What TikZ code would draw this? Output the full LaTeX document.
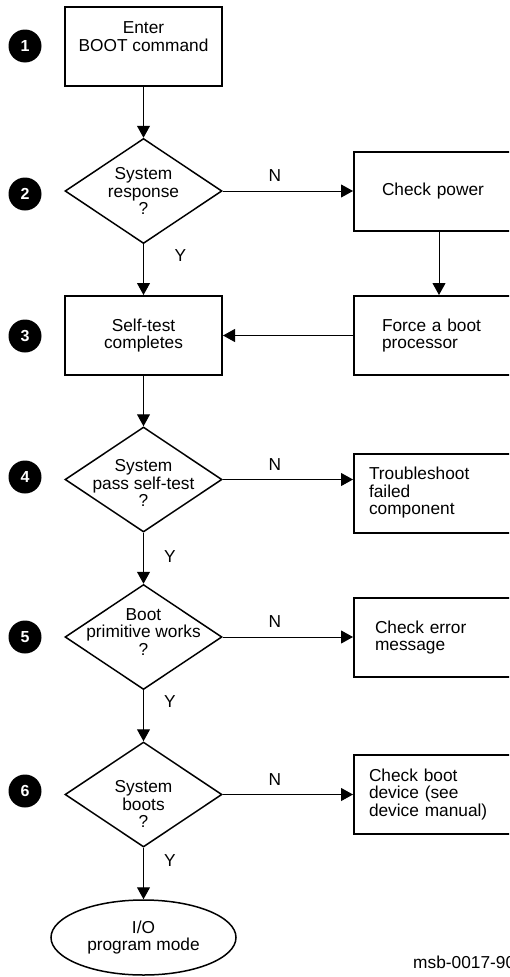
\documentclass[tikz,border=0pt]{standalone}
\usepackage{fontspec}
\setmainfont{Liberation Sans}
\usepackage{tikz}
\usetikzlibrary{
	arrows.meta,
	shapes.geometric
}

\begin{document}
\begin{tikzpicture}[x=1pt, y=-1pt,
		every node/.style={font=\fontsize{17.3pt}{17.5pt}\selectfont},
		box/.style={draw, line width=2pt, minimum width=157pt, minimum height=79pt, align=center},
		act/.style={draw, line width=2pt, anchor=west, align=left, minimum height=79pt},
		decision/.style={draw, diamond, line width=1.5pt, minimum width=157pt, minimum height=105pt, inner sep=0pt},
		qtext/.style={align=center, inner sep=0pt},
		badge/.style={circle, fill=black, text=white, minimum size=33pt, inner sep=0pt, font=\fontsize{16pt}{16pt}\selectfont\bfseries},
		flow/.style={line width=1pt, -{Triangle[length=12pt, width=13pt]}},
		lab/.style={inner sep=0pt}
	]
		\useasboundingbox (0,0) rectangle (509,977);
		\clip (0,0) rectangle (509,977);
		\node[badge] (num1) at (25,46) {1};
		\node[badge] (num2) at (25,194) {2};
		\node[badge] (num3) at (25,336) {3};
		\node[badge] (num4) at (25,477) {4};
		\node[badge] (num5) at (25,637) {5};
		\node[badge] (num6) at (25,791) {6};
		\node[box, text depth=20pt] (enter) at (143.5,46.5) {Enter\\BOOT command};
		\node[decision] (resp) at (143.5,191) {};
		\node[qtext] (resptext) at (resp) {System\\response\\?};
		\node[act, inner xsep=28pt, text width=114pt] (power) at (353,191) {Check power};
		\node[act, inner xsep=28pt, text width=114pt] (force) at (353,335.5) {Force a boot\\processor};
		\node[box] (selftest) at (143.5,335.5) {Self-test\\completes};
		\node[decision] (pass) at (143.5,479.5) {};
		\node[qtext, yshift=-3.5pt] (passtext) at (pass) {System\\pass self-test\\?};
		\node[act, inner xsep=15pt, text width=146pt] (trouble) at (353,493) {Troubleshoot\\failed\\component};
		\node[decision] (prim) at (143.5,637) {};
		\node[qtext, yshift=5pt] (primtext) at (prim) {Boot\\primitive works\\?};
		\node[act, inner xsep=21pt, text width=134pt] (errmsg) at (353,637.5) {Check error\\message};
		\node[decision] (boots) at (143.5,794.5) {};
		\node[qtext, yshift=-9.5pt] (bootstext) at (boots) {System\\boots\\?};
		\node[act, inner xsep=15pt, text width=146pt] (chkboot) at (353,794.5) {Check boot\\device (see\\device manual)};
		\node[draw, ellipse, line width=1.5pt, minimum width=185pt, minimum height=75pt, align=center] (io) at (143.5,937.5) {I/O\\program mode};
		\node[anchor=west, inner sep=0pt] (figid) at (413,962) {msb-0017-90};
		\draw[flow] (enter.south) -- (resp.north);
		\draw[flow] (resp.east) -- (power.west) node[lab, pos=0.4, yshift=15pt] {N};
		\draw[flow] (resp.south) -- (selftest.north) node[lab, pos=0.23, xshift=37pt] {Y};
		\draw[flow] (power.south) -- (force.north);
		\draw[flow] (force.west) -- (selftest.east);
		\draw[flow] (selftest.south) -- (pass.north);
		\draw[flow] (pass.east) -- (pass.east -| trouble.west) node[lab, pos=0.4, yshift=15pt] {N};
		\draw[flow] (pass.south) -- (prim.north) node[lab, pos=0.47, xshift=26.5pt] {Y};
		\draw[flow] (prim.east) -- (prim.east -| errmsg.west) node[lab, pos=0.4, yshift=15pt] {N};
		\draw[flow] (prim.south) -- (boots.north) node[lab, pos=0.22, xshift=26.5pt] {Y};
		\draw[flow] (boots.east) -- (boots.east -| chkboot.west) node[lab, pos=0.4, yshift=15pt] {N};
		\draw[flow] (boots.south) -- (io.north) node[lab, pos=0.24, xshift=26.5pt] {Y};
	\end{tikzpicture}
\end{document}
